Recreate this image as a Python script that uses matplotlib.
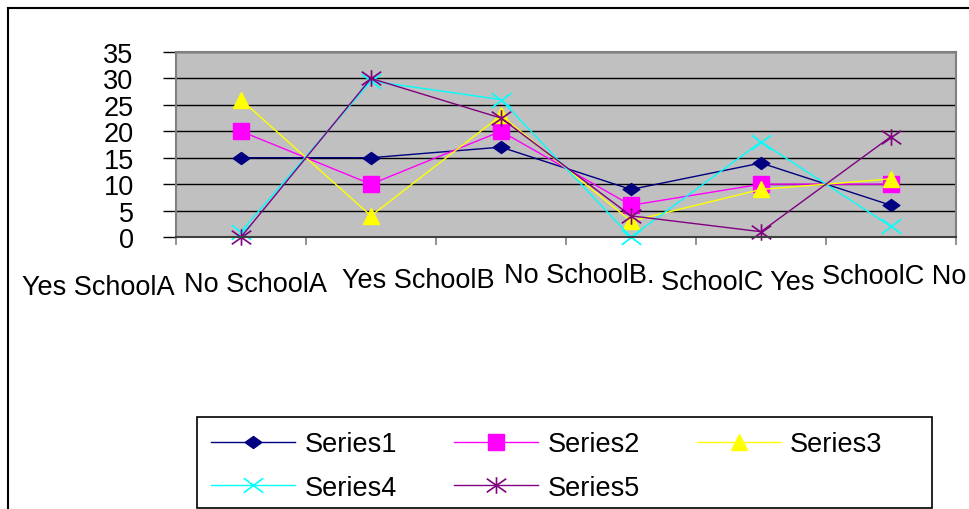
import matplotlib
matplotlib.use("Agg")
import matplotlib.pyplot as plt
from matplotlib.path import Path
from matplotlib.lines import Line2D
from matplotlib.patches import Rectangle

plt.rcParams["font.family"] = ["Liberation Sans", "DejaVu Sans"]

# ---- data -------------------------------------------------------------
categories = ["Yes SchoolA", "No SchoolA", "Yes SchoolB", "No SchoolB.",
              "SchoolC Yes", "SchoolC No"]
series_names = ["Series1", "Series2", "Series3", "Series4", "Series5"]
series1 = [15, 15, 17, 9, 14, 6]
series2 = [20, 10, 20, 6, 10, 10]
series3 = [26, 4, 23, 3, 9, 11]
series4 = [1, 29.5, 26, 0, 18, 2]
series5 = [0, 30, 22.5, 4, 1, 19]
y_ticks = [0, 5, 10, 15, 20, 25, 30, 35]

FS = 19.5

# ---- figure geometry (pixels -> figure fractions) ---------------------
W, H = 970, 510
fig = plt.figure(figsize=(W / 100, H / 100), dpi=100)
fig.patch.set_facecolor("white")


def fx(px):
    return px / W


def fy(py):
    return 1 - py / H


ax = fig.add_axes([fx(176), fy(238), fx(956) - fx(176), fy(53) - fy(238)])
ax.set_facecolor("#C0C0C0")
ax.set_xlim(0, len(categories))
ax.set_ylim(0, 35)
ax.set_yticks(y_ticks)
ax.yaxis.grid(True, color="black", linewidth=1.0)
ax.set_axisbelow(True)
for sp in ax.spines.values():
    sp.set_color("#808080")
    sp.set_linewidth(1.5)
ax.spines["bottom"].set_color("#404040")

ax.set_xticks(range(len(categories) + 1))
ax.set_xticklabels([])
ax.tick_params(axis="x", length=6, width=1.2, color="#808080", direction="out")
ax.tick_params(axis="y", length=9.5, width=1.0, color="black", direction="out",
               pad=21, labelsize=FS)

# ---- marker shapes ----------------------------------------------------
diamond = Path([(-1, 0), (0, 0.72), (1, 0), (0, -0.72), (-1, 0)],
               [Path.MOVETO, Path.LINETO, Path.LINETO, Path.LINETO, Path.CLOSEPOLY])
cross = Path([(-1, -0.75), (1, 0.75), (-1, 0.75), (1, -0.75)],
             [Path.MOVETO, Path.LINETO, Path.MOVETO, Path.LINETO])
star = Path([(-1, -0.7), (1, 0.7), (-1, 0.7), (1, -0.7), (0, -0.85), (0, 0.85)],
            [Path.MOVETO, Path.LINETO, Path.MOVETO, Path.LINETO, Path.MOVETO, Path.LINETO])

xs = [i + 0.5 for i in range(len(categories))]
styles = [
    dict(color="#000080", marker=diamond, markersize=12, mfc="#000080", mec="#000080"),
    dict(color="#FF00FF", marker="s", markersize=11, mfc="#FF00FF", mec="#FF00FF"),
    dict(color="#FFFF00", marker="^", markersize=12, mfc="#FFFF00", mec="#FFFF00"),
    dict(color="#00FFFF", marker=cross, markersize=14, mfc="none", mec="#00FFFF", mew=1.2),
    dict(color="#800080", marker=star, markersize=14, mfc="none", mec="#800080", mew=1.2),
]
handles = []
for vals, name, st in zip([series1, series2, series3, series4, series5],
                          series_names, styles):
    ln, = ax.plot(xs, vals, linewidth=1.0, label=name, clip_on=False, **st)
    handles.append(ln)

# ---- category labels (staggered like the original layout) ------------
label_px = [(98, 295), (256, 292), (418, 288), (579, 283), (738, 290), (894, 284)]
for txt, (px, py) in zip(categories, label_px):
    fig.text(fx(px), fy(py), txt, ha="center", va="baseline", fontsize=FS)

# ---- legend (row-major order for 3 columns) --------------------------
fig.add_artist(Rectangle((fx(197), fy(509)), fx(932) - fx(197), fy(418) - fy(509),
                         transform=fig.transFigure, facecolor="white",
                         edgecolor="black", linewidth=1.2))
order = [0, 3, 1, 4, 2]
leg = fig.legend([handles[i] for i in order], [series_names[i] for i in order],
                 ncol=3, loc="upper left", bbox_to_anchor=(fx(203), fy(424)),
                 bbox_transform=fig.transFigure, borderaxespad=0,
                 frameon=False, fontsize=FS,
                 handlelength=3.1, handletextpad=0.35, columnspacing=2.1,
                 borderpad=0.3, labelspacing=0.65)

# ---- chart-area border ------------------------------------------------
fig.add_artist(Line2D([fx(8), fx(8)], [fy(9), 0], transform=fig.transFigure,
                      color="black", linewidth=1.5))
fig.add_artist(Line2D([fx(8), 1], [fy(9), fy(9)], transform=fig.transFigure,
                      color="black", linewidth=1.5))

fig.savefig("out.png", dpi=100)
